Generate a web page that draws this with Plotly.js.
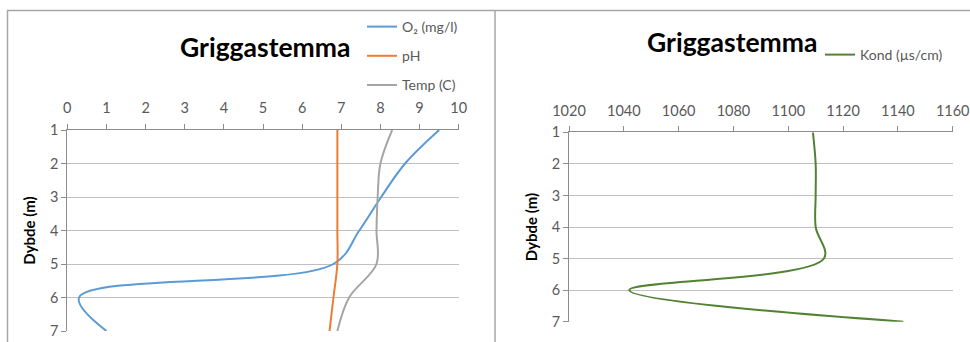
<!DOCTYPE html>
<html>
<head>
<meta charset="utf-8">
<script src="https://cdn.plot.ly/plotly-3.0.1.min.js"></script>
<style>html,body{margin:0;padding:0;background:#fff}#chart{width:970px;height:342px}</style>
</head>
<body>
<div id="chart"></div>
<script>
const depth = [1, 2, 3, 4, 5, 6, 7];
const o2 = [9.5, 8.63, 8.02, 7.46, 6.8, 0.3, 1.0];
const ph = [6.9, 6.9, 6.9, 6.9, 6.9, 6.8, 6.7];
const temp = [8.3, 8.0, 7.93, 7.9, 7.9, 7.2, 6.9];
const kond = [1109, 1110, 1110, 1110, 1113, 1042, 1142];
const chartTitle = 'Griggastemma';
const yTitle = 'Dybde (m)';

const W = 970, H = 342;
const px = v => v / W;
const py = v => 1 - v / H;

const FONT = 'Lato, "Open Sans", sans-serif';
const tickFont = {family: FONT, size: 14.5, color: '#595959'};
const legFont = {family: FONT, size: 14, color: '#595959'};

function line(c) { return {color: c, width: 2, shape: 'spline', smoothing: 1}; }

const traces = [
  {x: o2, y: depth, name: 'O₂ (mg/l)', mode: 'lines', line: line('#5B9BD5'), xaxis: 'x', yaxis: 'y', legend: 'legend', legendgroup: 'a'},
  {x: ph, y: depth, name: 'pH', mode: 'lines', line: line('#ED7D31'), xaxis: 'x', yaxis: 'y', legend: 'legend', legendgroup: 'b'},
  {x: temp, y: depth, name: 'Temp (C)', mode: 'lines', line: line('#A5A5A5'), xaxis: 'x', yaxis: 'y', legend: 'legend', legendgroup: 'c'},
  {x: kond, y: depth, name: 'Kond (µs/cm)', mode: 'lines', line: line('#548235'), xaxis: 'x2', yaxis: 'y2', legend: 'legend2', showlegend: true}
];

const xCommon = {side: 'top', showgrid: false, zeroline: false, showline: true, linecolor: '#8c8c8c', linewidth: 1,
  ticks: 'outside', ticklen: 5, tickcolor: '#8c8c8c', tickfont: tickFont, ticklabelstandoff: 5, automargin: false, fixedrange: true};
const yCommon = {autorange: false, dtick: 1, tick0: 1, showgrid: true, gridcolor: '#c0c0c0', gridwidth: 1, zeroline: false,
  showline: true, linecolor: '#8c8c8c', linewidth: 1, ticks: 'outside', ticklen: 5, tickcolor: '#8c8c8c',
  tickfont: tickFont, automargin: false, fixedrange: true,
  title: {text: yTitle, font: {family: FONT, size: 15, color: '#000', weight: 'bold'}, standoff: 10}};

const layout = {
  width: W, height: H,
  margin: {l: 0, r: 0, t: 0, b: 0},
  paper_bgcolor: '#fff', plot_bgcolor: '#fff',
  font: {family: FONT},
  xaxis: Object.assign({}, xCommon, {domain: [px(67.3), px(458.7)], range: [0, 10], dtick: 1, anchor: 'y'}),
  yaxis: Object.assign({}, yCommon, {domain: [py(331), py(130)], range: [7, 1], anchor: 'x'}),
  xaxis2: Object.assign({}, xCommon, {domain: [px(569), px(952.7)], range: [1020, 1160], dtick: 20, anchor: 'y2'}),
  yaxis2: Object.assign({}, yCommon, {domain: [py(321.7), py(132.3)], range: [7, 1], anchor: 'x2'}),
  legend: {x: px(362), y: py(11), xanchor: 'left', yanchor: 'top', bgcolor: 'rgba(0,0,0,0)', borderwidth: 0,
    font: legFont, tracegroupgap: 8, traceorder: 'grouped'},
  legend2: {x: px(820), y: py(39), xanchor: 'left', yanchor: 'top', bgcolor: 'rgba(0,0,0,0)', borderwidth: 0,
    font: legFont},
  annotations: [
    {text: chartTitle, xref: 'paper', yref: 'paper', x: px(265), y: py(47), xanchor: 'center', yanchor: 'middle',
      showarrow: false, font: {family: FONT, size: 26.5, color: '#000', weight: 'bold'}},
    {text: chartTitle, xref: 'paper', yref: 'paper', x: px(732), y: py(42), xanchor: 'center', yanchor: 'middle',
      showarrow: false, font: {family: FONT, size: 26.5, color: '#000', weight: 'bold'}}
  ],
  shapes: [
    {type: 'line', xref: 'paper', yref: 'paper', x0: px(7), x1: px(970), y0: py(10.5), y1: py(10.5), line: {color: '#a6a6a6', width: 1.5}},
    {type: 'line', xref: 'paper', yref: 'paper', x0: px(7.5), x1: px(7.5), y0: py(10), y1: py(342), line: {color: '#a6a6a6', width: 1.5}},
    {type: 'line', xref: 'paper', yref: 'paper', x0: px(495), x1: px(495), y0: py(10), y1: py(342), line: {color: '#a6a6a6', width: 1.5}}
  ]
};

Plotly.newPlot('chart', traces, layout, {displayModeBar: false, staticPlot: true});
</script>
</body>
</html>
